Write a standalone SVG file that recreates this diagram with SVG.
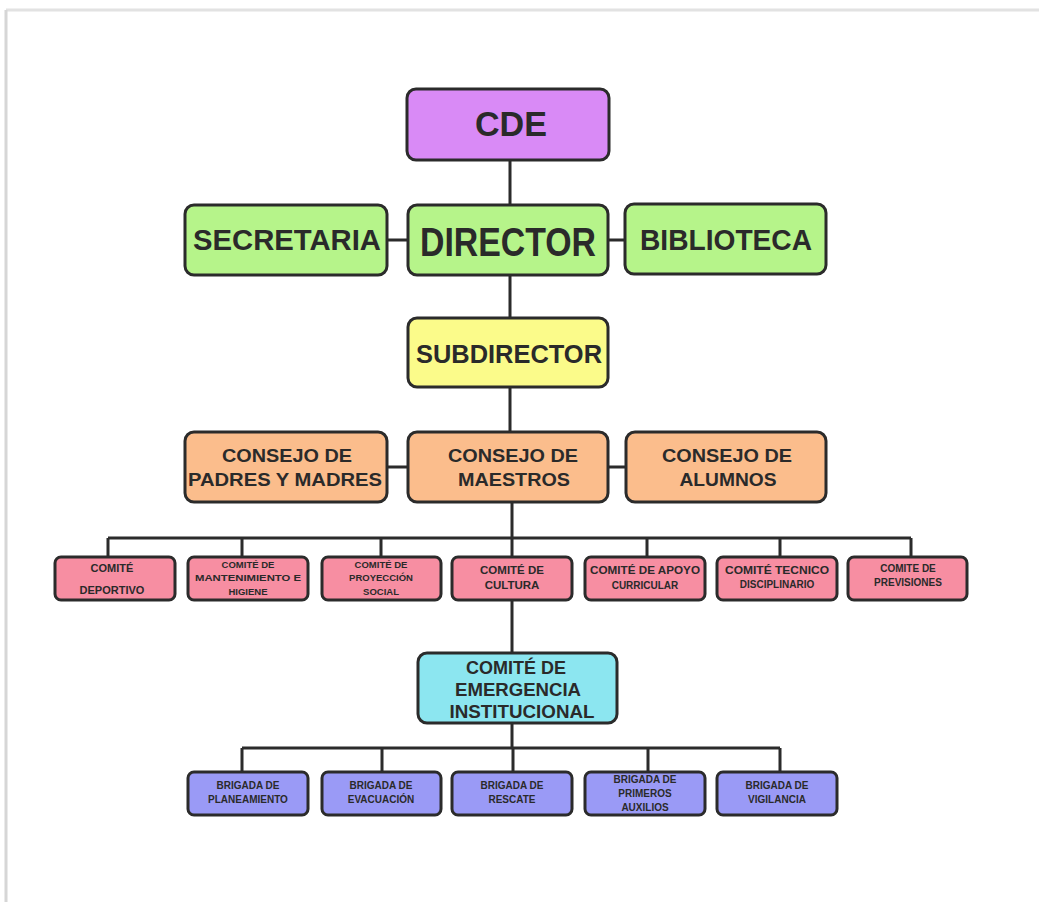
<svg xmlns="http://www.w3.org/2000/svg" width="1039" height="902" viewBox="0 0 1039 902">
<style>
.b{stroke:#2b2b2b;stroke-width:3;}
.t{font-family:"Liberation Sans",Arial,sans-serif;font-weight:bold;fill:#2a2a2a;text-anchor:middle;}
.c{stroke:#2b2b2b;stroke-width:3;fill:none;}
.p{fill:#d98af6}.g{fill:#b6f48a}.y{fill:#fbfb8a}.o{fill:#fbbd8c}.k{fill:#f78ea2}.q{fill:#8ce6f0}.v{fill:#9a9af6}
</style>
<rect x="0" y="0" width="1039" height="902" fill="#ffffff"/>
<line x1="6" y1="10" x2="1039" y2="10" stroke="#e2e2e2" stroke-width="3"/>
<line x1="6" y1="10" x2="6" y2="902" stroke="#d6d6d6" stroke-width="3"/>
<g id="connectors">
<path class="c" d="M510 160V205M387 240H408M608 240H625M510 275V318M510 387V432M387 467H408M608 467H626M512 502V538M108 538H911M108 538V557M242 538V557M381 538V557M512 538V557M647 538V557M780 538V557M911 538V557M512 600V653M512 723V748M242 748H780M242 748V772M382 748V772M513 748V772M648 748V772M780 748V772"/>
</g>
<g id="cde"><rect class="b p" x="407" y="89" width="202" height="71" rx="9"/><text class="t" x="511" y="136" font-size="35" textLength="72" lengthAdjust="spacingAndGlyphs">CDE</text></g>
<g id="secretaria"><rect class="b g" x="185" y="205" width="202" height="70" rx="9"/><text class="t" x="287" y="250" font-size="29" textLength="188" lengthAdjust="spacingAndGlyphs">SECRETARIA</text></g>
<g id="director"><rect class="b g" x="408" y="205" width="200" height="70" rx="9"/><text class="t" x="508" y="256" font-size="40" textLength="176" lengthAdjust="spacingAndGlyphs">DIRECTOR</text></g>
<g id="biblioteca"><rect class="b g" x="625" y="204" width="201" height="70" rx="9"/><text class="t" x="726" y="250" font-size="29" textLength="172" lengthAdjust="spacingAndGlyphs">BIBLIOTECA</text></g>
<g id="subdirector"><rect class="b y" x="408" y="318" width="200" height="69" rx="9"/><text class="t" x="509" y="363" font-size="26" textLength="186" lengthAdjust="spacingAndGlyphs">SUBDIRECTOR</text></g>
<g id="padres"><rect class="b o" x="185" y="432" width="202" height="70" rx="9"/><text class="t" font-size="19"><tspan x="287" y="462" textLength="130" lengthAdjust="spacingAndGlyphs">CONSEJO DE</tspan><tspan x="285" y="486" textLength="194" lengthAdjust="spacingAndGlyphs">PADRES Y MADRES</tspan></text></g>
<g id="maestros"><rect class="b o" x="408" y="432" width="200" height="70" rx="9"/><text class="t" font-size="19"><tspan x="513" y="462" textLength="130" lengthAdjust="spacingAndGlyphs">CONSEJO DE</tspan><tspan x="514" y="486" textLength="112" lengthAdjust="spacingAndGlyphs">MAESTROS</tspan></text></g>
<g id="alumnos"><rect class="b o" x="626" y="432" width="200" height="70" rx="9"/><text class="t" font-size="19"><tspan x="727" y="462" textLength="130" lengthAdjust="spacingAndGlyphs">CONSEJO DE</tspan><tspan x="728" y="486" textLength="97" lengthAdjust="spacingAndGlyphs">ALUMNOS</tspan></text></g>
<g id="deportivo"><rect class="b k" x="55" y="557" width="120" height="43" rx="6"/><text class="t" font-size="11"><tspan x="112" y="572">COMITÉ</tspan><tspan x="112" y="594">DEPORTIVO</tspan></text></g>
<g id="mantenimiento"><rect class="b k" x="188" y="557" width="120" height="43" rx="6"/><text class="t" font-size="9.5"><tspan x="248" y="568">COMITÉ DE</tspan><tspan x="248" y="581" textLength="106" lengthAdjust="spacingAndGlyphs">MANTENIMIENTO E</tspan><tspan x="248" y="595">HIGIENE</tspan></text></g>
<g id="proyeccion"><rect class="b k" x="322" y="557" width="119" height="43" rx="6"/><text class="t" font-size="9.5"><tspan x="381" y="568">COMITÉ DE</tspan><tspan x="381" y="581">PROYECCIÓN</tspan><tspan x="381" y="595">SOCIAL</tspan></text></g>
<g id="cultura"><rect class="b k" x="452" y="557" width="120" height="43" rx="6"/><text class="t" font-size="11.5"><tspan x="512" y="574">COMITÉ DE</tspan><tspan x="512" y="589">CULTURA</tspan></text></g>
<g id="apoyo"><rect class="b k" x="585" y="557" width="120" height="43" rx="6"/><text class="t" font-size="10"><tspan x="645" y="574" textLength="110" lengthAdjust="spacingAndGlyphs">COMITÉ DE APOYO</tspan><tspan x="645" y="589">CURRICULAR</tspan></text></g>
<g id="tecnico"><rect class="b k" x="717" y="557" width="120" height="43" rx="6"/><text class="t" font-size="10"><tspan x="777" y="574" textLength="104" lengthAdjust="spacingAndGlyphs">COMITÉ TECNICO</tspan><tspan x="777" y="588">DISCIPLINARIO</tspan></text></g>
<g id="previsiones"><rect class="b k" x="848" y="557" width="119" height="43" rx="6"/><text class="t" font-size="10"><tspan x="908" y="572">COMITE DE</tspan><tspan x="908" y="586">PREVISIONES</tspan></text></g>
<g id="emergencia"><rect class="b q" x="418" y="653" width="199" height="70" rx="9"/><text class="t" font-size="19"><tspan x="516" y="674" textLength="100" lengthAdjust="spacingAndGlyphs">COMITÉ DE</tspan><tspan x="518" y="696" textLength="126" lengthAdjust="spacingAndGlyphs">EMERGENCIA</tspan><tspan x="522" y="718" textLength="145" lengthAdjust="spacingAndGlyphs">INSTITUCIONAL</tspan></text></g>
<g id="planeamiento"><rect class="b v" x="188" y="772" width="120" height="43" rx="6"/><text class="t" font-size="10"><tspan x="248" y="789">BRIGADA DE</tspan><tspan x="248" y="803">PLANEAMIENTO</tspan></text></g>
<g id="evacuacion"><rect class="b v" x="322" y="772" width="119" height="43" rx="6"/><text class="t" font-size="10"><tspan x="381" y="789">BRIGADA DE</tspan><tspan x="381" y="803">EVACUACIÓN</tspan></text></g>
<g id="rescate"><rect class="b v" x="452" y="772" width="120" height="43" rx="6"/><text class="t" font-size="10"><tspan x="512" y="789">BRIGADA DE</tspan><tspan x="512" y="803">RESCATE</tspan></text></g>
<g id="auxilios"><rect class="b v" x="585" y="772" width="120" height="43" rx="6"/><text class="t" font-size="10"><tspan x="645" y="783">BRIGADA DE</tspan><tspan x="645" y="797">PRIMEROS</tspan><tspan x="645" y="811">AUXILIOS</tspan></text></g>
<g id="vigilancia"><rect class="b v" x="717" y="772" width="120" height="43" rx="6"/><text class="t" font-size="10"><tspan x="777" y="789">BRIGADA DE</tspan><tspan x="777" y="803">VIGILANCIA</tspan></text></g>
</svg>
